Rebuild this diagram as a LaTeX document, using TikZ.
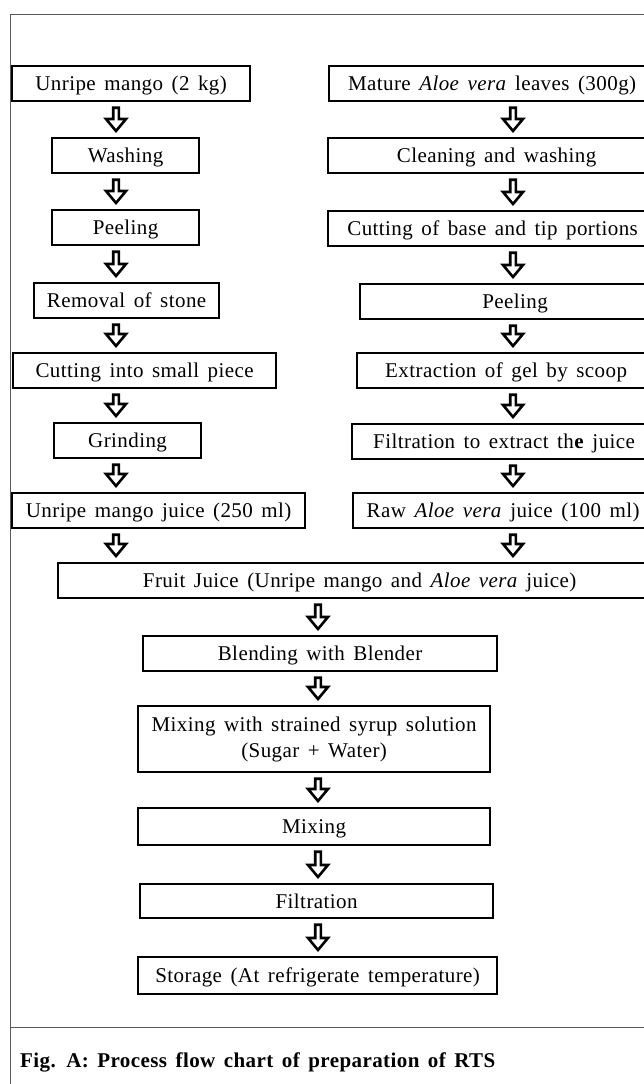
\documentclass[tikz,border=0pt]{standalone}
\usepackage{fontspec}
\setmainfont{Liberation Serif}[LetterSpace=2,WordSpace=1.5]
\usetikzlibrary{calc}

\tikzset{
  stage/.style={draw, line width=2.2pt, inner sep=0pt, minimum height=35pt,
    anchor=north west, font=\fontsize{21}{26}\selectfont},
  stageline/.style={stage, text height=14.5pt, text depth=0pt},
  fatarrow/.style={draw, line width=2.6pt, line join=miter, to path={
    let \p1=(\tikztostart), \p2=(\tikztotarget) in
    (\x1-2.8pt,\y1-5.5pt) -- (\x1-2.8pt,\y2+18pt) -- (\x1-10pt,\y2+18pt) -- (\x1,\y2+6pt)
    -- (\x1+10pt,\y2+18pt) -- (\x1+2.8pt,\y2+18pt) -- (\x1+2.8pt,\y1-5.5pt) -- cycle}},
  frame/.style={draw=black!65, line width=1pt}
}

\begin{document}
\begin{tikzpicture}[x=1pt, y=-1pt]
  \useasboundingbox (0,0) rectangle (644,1084);
  % outer frame and caption rule
  \draw[frame] (644,14) -- (10,14) -- (10,1084);
  \draw[frame] (10,1027) -- (644,1027);

  \coordinate (lx) at (116,0);
  \coordinate (rx) at (513,0);
  \coordinate (cx) at (318,0);

  % mango side
  \node[stageline, minimum width=238pt] (m1) at (11,65)  {Unripe mango (2 kg)};
  \node[stageline, minimum width=147pt] (m2) at (51,137) {Washing};
  \node[stageline, minimum width=147pt] (m3) at (51,209) {Peeling};
  \node[stageline, minimum width=185pt] (m4) at (33,282) {Removal of stone};
  \node[stageline, minimum width=263pt] (m5) at (12,352) {Cutting into small piece};
  \node[stageline, minimum width=147pt] (m6) at (53,422) {Grinding};
  \node[stageline, minimum width=293pt] (m7) at (11,492) {Unripe mango juice (250 ml)};

  % aloe side
  \node[stageline, minimum width=326pt] (a1) at (328,65)  {Mature \textit{Aloe vera} leaves (300g)};
  \node[stageline, minimum width=337pt] (a2) at (327,137) {Cleaning and washing};
  \node[stageline, minimum width=329pt] (a3) at (327,210) {Cutting of base and tip portions};
  \node[stageline, minimum width=310pt] (a4) at (359,283) {Peeling};
  \node[stageline, minimum width=298pt] (a5) at (356,352) {Extraction of gel by scoop};
  \node[stageline, minimum width=304pt] (a6) at (351,423) {Filtration to extract th\textbf{e} juice};
  \node[stageline, minimum width=300pt] (a7) at (352,492) {Raw \textit{Aloe vera} juice (100 ml)};

  % common line
  \node[stageline, minimum width=603pt] (fj) at (57,562) {Fruit Juice (Unripe mango and \textit{Aloe vera} juice)};
  \node[stageline, minimum width=354pt] (bl) at (142,635) {Blending with Blender};
  \node[stage, minimum width=352pt, minimum height=66pt, align=center] (sy) at (137,705)
    {Mixing with strained syrup solution\\(Sugar + Water)};
  \node[stageline, minimum width=352pt, minimum height=37pt] (mx) at (137,807) {Mixing};
  \node[stageline, minimum width=353pt, minimum height=34pt] (fl) at (139,883) {Filtration};
  \node[stageline, minimum width=359pt, minimum height=37pt] (st) at (137,956) {Storage (At refrigerate temperature)};

  \foreach \a/\b in {m1/m2, m2/m3, m3/m4, m4/m5, m5/m6, m6/m7, m7/fj}
    \draw[fatarrow] (\a.south -| lx) to (\b.north -| lx);
  \foreach \a/\b in {a1/a2, a2/a3, a3/a4, a4/a5, a5/a6, a6/a7, a7/fj}
    \draw[fatarrow] (\a.south -| rx) to (\b.north -| rx);
  \foreach \a/\b in {fj/bl, bl/sy, sy/mx, mx/fl, fl/st}
    \draw[fatarrow] (\a.south -| cx) to (\b.north -| cx);

  \node[anchor=west, inner sep=0pt, font=\bfseries\fontsize{21}{24}\selectfont] (cap) at (20,1062)
    {Fig. A: Process flow chart of preparation of RTS};
\end{tikzpicture}
\end{document}
